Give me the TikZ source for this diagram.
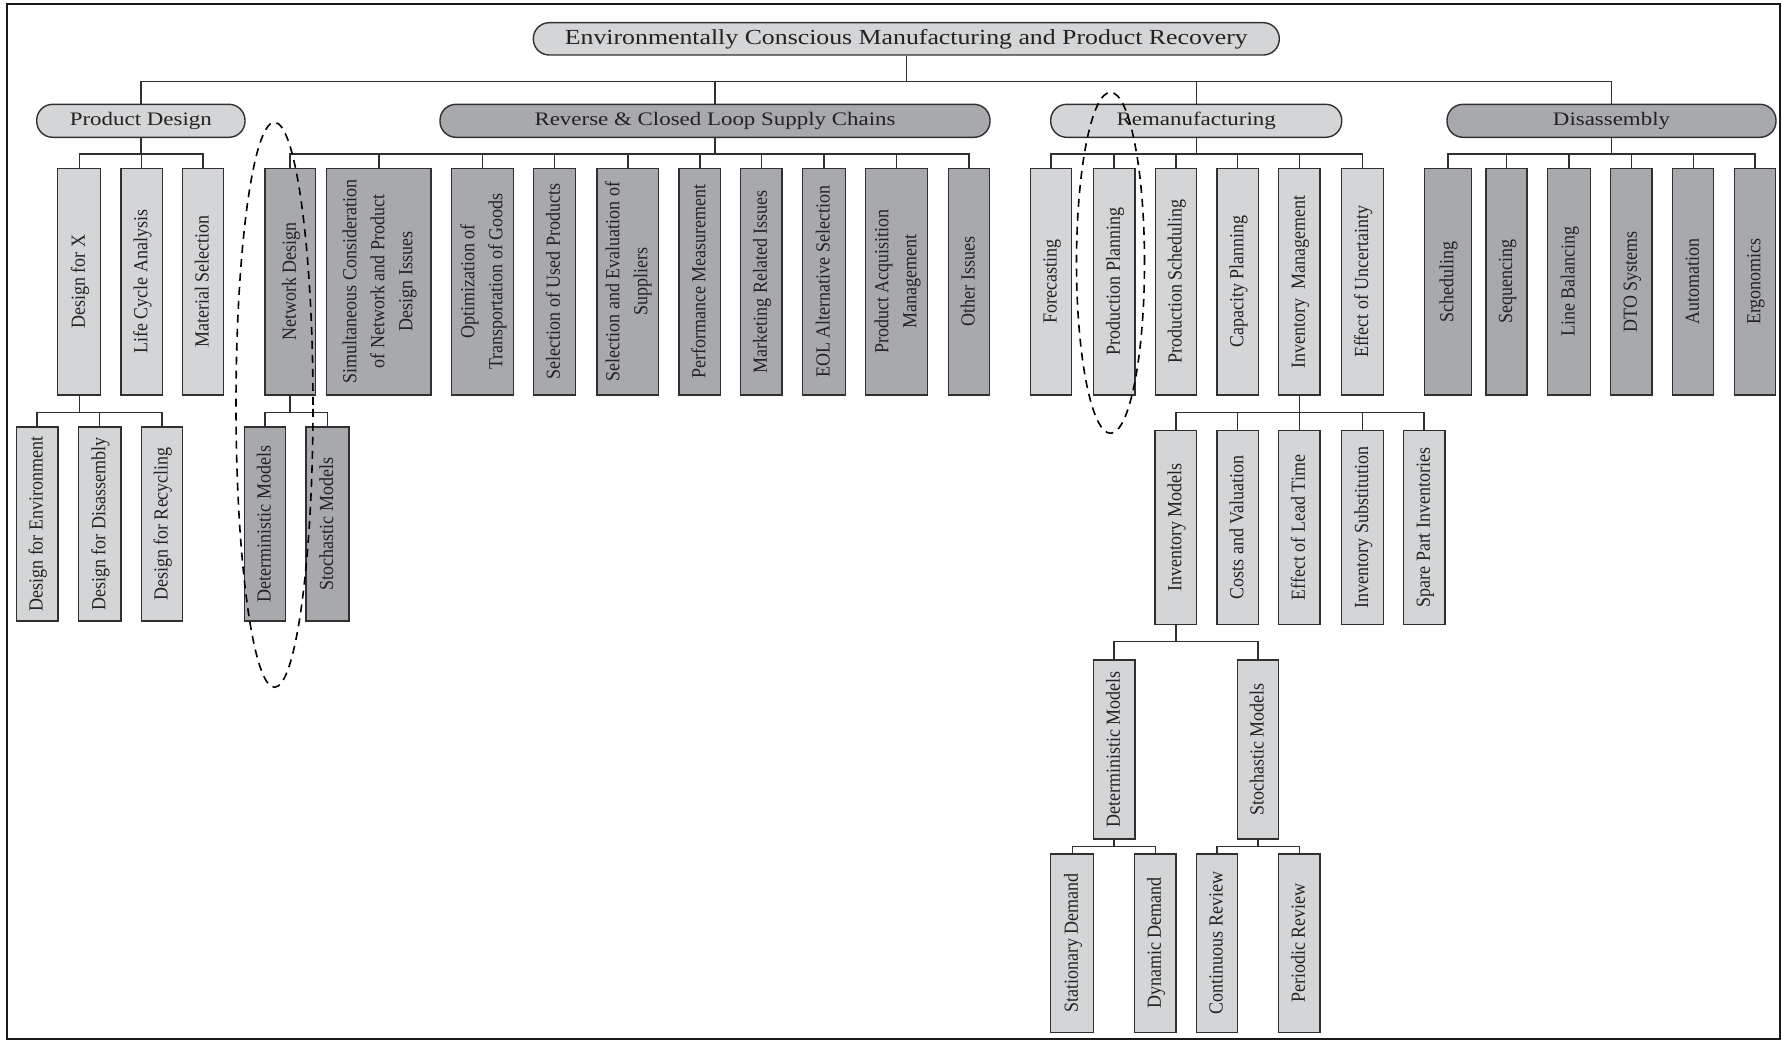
\documentclass[tikz,border=0pt]{standalone}
\usepackage{fontspec}
\usepackage{graphicx}
\usetikzlibrary{shapes.geometric}
\setmainfont{Liberation Serif}
\newfontfamily\pillfont{Liberation Serif}[FakeStretch=1.2]
\newfontfamily\vertfont{Liberation Serif}[FakeStretch=0.9]

\definecolor{lightfill}{HTML}{D4D5D7}
\definecolor{darkfill}{HTML}{A8A9AC}
\definecolor{edge}{HTML}{303030}
\definecolor{ink}{HTML}{222222}

% vertical (bottom-to-top) label, lines separated by \\
\newcommand\vtext[1]{\rotatebox{90}{\vertfont\fontsize{20}{28}\selectfont\begin{tabular}{@{}c@{}}#1\end{tabular}}}
% parent -> children through a horizontal bus #2 below the parent
\newcommand\branch[3]{\foreach \kid in {#3}{\draw[conn] (#1.south) -- ++(0,#2) -| (\kid.north);}}

\begin{document}
\begin{tikzpicture}[x=1pt, y=-1pt,
  box/.style={draw=edge, line width=1.4pt, inner sep=0pt, text=ink},
  lbox/.style={box, fill=lightfill},
  dbox/.style={box, fill=darkfill},
  pill/.style={draw=edge, line width=1.4pt, rounded corners=16pt, inner sep=0pt,
    minimum height=33pt, text=ink, font=\pillfont\fontsize{19.1}{22}\selectfont},
  conn/.style={draw=edge, line width=1.4pt},
  ring/.style={ellipse, draw=black, line width=1.6pt, dash pattern=on 8pt off 6pt, inner sep=0pt},
  lvtwo/.style={minimum height=226.7pt, minimum width=42pt},
  lvthreeL/.style={minimum height=194pt, minimum width=42pt},
  lvthreeR/.style={minimum height=193.6pt, minimum width=42pt},
  lvfour/.style={minimum height=179pt, minimum width=42pt},
  lvfive/.style={minimum height=178.3pt, minimum width=42pt}]

\useasboundingbox (0,0) rectangle (1782,1041);
\draw[line width=2pt, draw=black!90] (7.3,4.5) rectangle (1779.5,1039);

% root and the four main areas
\node[pill, fill=lightfill, minimum width=746pt, minimum height=32.3pt,
  font=\pillfont\fontsize{21.5}{24}\selectfont] (root) at (906.3,38.85)
  {Environmentally Conscious Manufacturing and Product Recovery};
\node[pill, fill=lightfill, minimum width=208.3pt] (pd) at (140.85,120.8) {Product Design};
\node[pill, fill=darkfill, minimum width=550pt] (rev) at (715,120.8) {Reverse \& Closed Loop Supply Chains};
\node[pill, fill=lightfill, minimum width=291pt] (rem) at (1196.2,120.8) {Remanufacturing};
\node[pill, fill=darkfill, minimum width=329pt] (dis) at (1611.5,120.8) {Disassembly};

% product design topics
\node[lbox, lvtwo, minimum width=43pt] (dfx) at (79.2,281.65) {\vtext{Design for X}};
\node[lbox, lvtwo, minimum width=41.3pt] (lca) at (141.65,281.65) {\vtext{Life Cycle Analysis}};
\node[lbox, lvtwo, minimum width=41.4pt] (mat) at (203,281.65) {\vtext{Material Selection}};

% reverse and closed loop supply chain topics
\node[dbox, lvtwo, minimum width=50.3pt] (net) at (290.15,281.65) {\vtext{Network Design}};
\node[dbox, lvtwo, minimum width=104.3pt] (sim) at (378.85,281.65) {\vtext{Simultaneous Consideration\\of Network and Product\\Design Issues}};
\node[dbox, lvtwo, minimum width=62pt] (opt) at (482.7,281.65) {\vtext{Optimization of\\Transportation of Goods}};
\node[dbox, lvtwo, minimum width=42pt] (sup) at (554.3,281.65) {\vtext{Selection of Used Products}};
\node[dbox, lvtwo, minimum width=61.7pt] (sel) at (627.85,281.65) {\vtext{Selection and Evaluation of\\Suppliers}};
\node[dbox, lvtwo, minimum width=41.7pt] (perf) at (699.85,281.65) {\vtext{Performance Measurement}};
\node[dbox, lvtwo, minimum width=41.3pt] (mkt) at (761.35,281.65) {\vtext{Marketing Related Issues}};
\node[dbox, lvtwo, minimum width=43.4pt] (eol) at (824,281.65) {\vtext{EOL Alternative Selection}};
\node[dbox, lvtwo, minimum width=62pt] (acq) at (896.7,281.65) {\vtext{Product Acquisition\\Management}};
\node[dbox, lvtwo, minimum width=41.4pt] (oth) at (969,281.65) {\vtext{Other Issues}};

% remanufacturing topics
\node[lbox, lvtwo, minimum width=41.4pt] (fc) at (1051,281.65) {\vtext{Forecasting}};
\node[lbox, lvtwo, minimum width=41.7pt] (pp) at (1114.15,281.65) {\vtext{Production Planning}};
\node[lbox, lvtwo, minimum width=41.4pt] (psch) at (1176,281.65) {\vtext{Production Scheduling}};
\node[lbox, lvtwo, minimum width=41.3pt] (cap) at (1237.65,281.65) {\vtext{Capacity Planning}};
\node[lbox, lvtwo, minimum width=41.3pt] (inv) at (1299.35,281.65) {\vtext{Inventory~ Management}};
\node[lbox, lvtwo, minimum width=41.6pt] (unc) at (1362.5,281.65) {\vtext{Effect of Uncertainty}};

% disassembly topics
\node[dbox, lvtwo, minimum width=47pt] (dsch) at (1447.8,281.65) {\vtext{Scheduling}};
\node[dbox, lvtwo, minimum width=41pt] (seq) at (1506.5,281.65) {\vtext{Sequencing}};
\node[dbox, lvtwo, minimum width=42.6pt] (lb) at (1569,281.65) {\vtext{Line Balancing}};
\node[dbox, lvtwo, minimum width=41.3pt] (dto) at (1631.35,281.65) {\vtext{DTO Systems}};
\node[dbox, lvtwo, minimum width=41pt] (aut) at (1693.2,281.65) {\vtext{Automation}};
\node[dbox, lvtwo, minimum width=41pt] (erg) at (1754.8,281.65) {\vtext{Ergonomics}};

% design for X
\node[lbox, lvthreeL, minimum width=41.7pt] (dfe) at (37.15,524) {\vtext{Design for Environment}};
\node[lbox, lvthreeL, minimum width=42.7pt] (dfd) at (99.65,524) {\vtext{Design for Disassembly}};
\node[lbox, lvthreeL, minimum width=41.4pt] (dfr) at (162,524) {\vtext{Design for Recycling}};

% network design models
\node[dbox, lvthreeL, minimum width=41.4pt] (ndet) at (265,524) {\vtext{Deterministic Models}};
\node[dbox, lvthreeL, minimum width=43pt] (nsto) at (327.5,524) {\vtext{Stochastic Models}};

% inventory management topics
\node[lbox, lvthreeR, minimum width=41.7pt] (imod) at (1175.85,527.5) {\vtext{Inventory Models}};
\node[lbox, lvthreeR, minimum width=41.3pt] (cost) at (1237.65,527.5) {\vtext{Costs and Valuation}};
\node[lbox, lvthreeR, minimum width=41.3pt] (lead) at (1299.35,527.5) {\vtext{Effect of Lead Time}};
\node[lbox, lvthreeR, minimum width=41.6pt] (subs) at (1362.5,527.5) {\vtext{Inventory Substitution}};
\node[lbox, lvthreeR, minimum width=41.7pt] (spare) at (1424.15,527.5) {\vtext{Spare Part Inventories}};

% inventory models
\node[lbox, lvfour, minimum width=41.7pt] (idet) at (1114.15,749.5) {\vtext{Deterministic Models}};
\node[lbox, lvfour, minimum width=41.4pt] (isto) at (1258,749.5) {\vtext{Stochastic Models}};

\node[lbox, lvfive, minimum width=43pt] (stat) at (1072.2,943.15) {\vtext{Stationary Demand}};
\node[lbox, lvfive, minimum width=41.3pt] (dyn) at (1155.35,943.15) {\vtext{Dynamic Demand}};
\node[lbox, lvfive, minimum width=41.4pt] (cont) at (1217,943.15) {\vtext{Continuous Review}};
\node[lbox, lvfive, minimum width=41.3pt] (per) at (1299.35,943.15) {\vtext{Periodic Review}};

% connectors
\branch{root}{26}{pd,rev,rem,dis}
\branch{pd}{16}{dfx,lca,mat}
\branch{rev}{16}{net,sim,opt,sup,sel,perf,mkt,eol,acq,oth}
\branch{rem}{16}{fc,pp,psch,cap,inv,unc}
\branch{dis}{16}{dsch,seq,lb,dto,aut,erg}
\branch{dfx}{16.7}{dfe,dfd,dfr}
\branch{net}{16.7}{ndet,nsto}
\branch{inv}{16.7}{imod,cost,lead,subs,spare}
\branch{imod}{16.7}{idet,isto}
\branch{idet}{6.7}{stat,dyn}
\branch{isto}{6.7}{cont,per}

% dashed highlights
\node[ring, minimum width=77pt, minimum height=565pt] (hlnet) at (274.5,404.8) {};
\node[ring, minimum width=68pt, minimum height=341pt] (hlpp) at (1110.5,262.8) {};
\end{tikzpicture}
\end{document}
